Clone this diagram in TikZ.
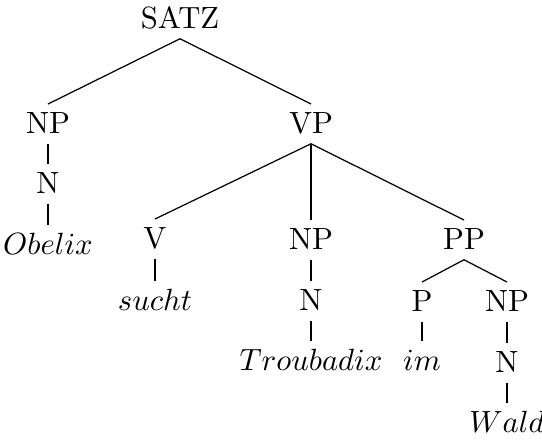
\documentclass[tikz,border=0pt]{standalone}
\usepackage{amsmath}
\usepackage{tikz}

\begin{document}
\begin{tikzpicture}[x=0.3257pt, y=-0.3257pt, cat/.style = {anchor=base, inner sep=2.3pt, text height=6.94pt, text depth=1pt}]
      \useasboundingbox (0,0) rectangle (542,441);
      \node[cat] (satz) at (180,28) {SATZ}; % root
      \node[cat] (np1) at (48,133) {NP};
      \node[cat] (n1) at (48,193) {N};
      \node[cat] (obelix) at (48,254) {$Obelix$};
      \node[cat] (vp) at (311,133) {VP}; % verb phrase
      \node[cat] (v) at (155,248) {V};
      \node[cat] (sucht) at (155,310) {$sucht$};
      \node[cat] (np2) at (311,249) {NP};
      \node[cat] (n2) at (311,310) {N};
      \node[cat] (troubadix) at (311,370) {$Troubadix$};
      \node[cat] (pp) at (464,249) {PP}; % prep. phrase
      \node[cat] (p) at (422,311) {P};
      \node[cat] (im) at (422,370) {$im$};
      \node[cat] (np3) at (507,311) {NP};
      \node[cat] (n3) at (507,372) {N};
      \node[cat] (wald) at (507,432) {$Wald$};
      \draw (satz.south) -- (np1.north);
      \draw (satz.south) -- (vp.north);
      \draw (np1.south) -- (n1.north);
      \draw (n1.south) -- (obelix.north);
      \draw (vp.south) -- (v.north);
      \draw (vp.south) -- (np2.north);
      \draw (vp.south) -- (pp.north);
      \draw (v.south) -- (sucht.north);
      \draw (np2.south) -- (n2.north);
      \draw (n2.south) -- (troubadix.north);
      \draw (pp.south) -- (p.north);
      \draw (pp.south) -- (np3.north);
      \draw (p.south) -- (im.north);
      \draw (np3.south) -- (n3.north);
      \draw (n3.south) -- (wald.north);
    \end{tikzpicture}
\end{document}
